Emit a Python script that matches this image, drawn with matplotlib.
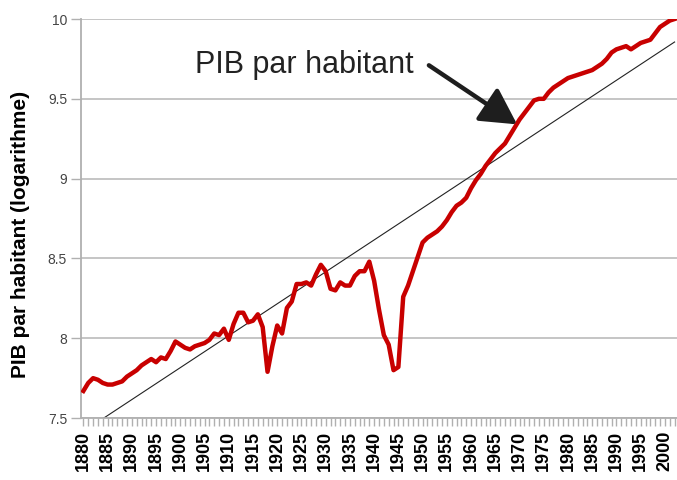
import numpy as np
import matplotlib
matplotlib.use("Agg")
import matplotlib.pyplot as plt

plt.rcParams['font.family'] = ['Liberation Sans', 'DejaVu Sans']

# PIB par habitant (log), one value per year, 1880-2002
years = list(range(1880, 2003))
pib_log = [
    7.67, 7.72, 7.75, 7.74, 7.72, 7.71, 7.71, 7.72, 7.73, 7.76,   # 1880-1889
    7.78, 7.80, 7.83, 7.85, 7.87, 7.85, 7.88, 7.87, 7.92, 7.98,   # 1890-1899
    7.96, 7.94, 7.93, 7.95, 7.96, 7.97, 7.99, 8.03, 8.02, 8.06,   # 1900-1909
    7.99, 8.09, 8.16, 8.16, 8.10, 8.11, 8.15, 8.07, 7.79, 7.95,   # 1910-1919
    8.08, 8.03, 8.19, 8.23, 8.34, 8.34, 8.35, 8.33, 8.40, 8.46,   # 1920-1929
    8.42, 8.31, 8.30, 8.35, 8.33, 8.33, 8.39, 8.42, 8.42, 8.48,   # 1930-1939
    8.36, 8.18, 8.02, 7.96, 7.80, 7.82, 8.26, 8.33, 8.42, 8.51,   # 1940-1949
    8.60, 8.63, 8.65, 8.67, 8.70, 8.74, 8.79, 8.83, 8.85, 8.88,   # 1950-1959
    8.94, 8.99, 9.03, 9.08, 9.12, 9.16, 9.19, 9.22, 9.27, 9.32,   # 1960-1969
    9.37, 9.41, 9.45, 9.49, 9.50, 9.50, 9.54, 9.57, 9.59, 9.61,   # 1970-1979
    9.63, 9.64, 9.65, 9.66, 9.67, 9.68, 9.70, 9.72, 9.75, 9.79,   # 1980-1989
    9.81, 9.82, 9.83, 9.81, 9.83, 9.85, 9.86, 9.87, 9.91, 9.95,   # 1990-1999
    9.97, 9.99, 10.00,                                            # 2000-2002
]

# linear trend, end points
trend_years = [1880, 2002]
trend_values = [7.416, 9.856]

xtick_years = list(range(1880, 2001, 5))
ytick_values = [7.5, 8, 8.5, 9, 9.5, 10]
ytick_labels = ["7.5", "8", "8.5", "9", "9.5", "10"]

fig = plt.figure(figsize=(6.77, 4.8), dpi=100)
ax = fig.add_axes([0.1196, 0.129, 0.8804, 0.8314])

for v in ytick_values:
    ax.axhline(v, color="#c0c0c0", lw=1.3, zorder=0)

ax.plot(trend_years, trend_values, color="#222222", lw=0.8, zorder=2)
ax.plot(years, pib_log, color="#c80000", lw=3.2, zorder=3, solid_joinstyle="round")

ax.set_xlim(1879.5, 2002.5)
ax.set_ylim(7.5, 10)

ax.set_xticks(xtick_years)
ax.set_xticklabels([str(y) for y in xtick_years], rotation=90,
                   fontweight="bold", fontsize=13)
ax.set_xticks(years, minor=True)
ax.tick_params(axis="x", which="both", length=6, color="#b0b0b0", width=1, pad=3)

ax.set_yticks(ytick_values)
ax.set_yticklabels(ytick_labels, fontsize=10, color="#444444")
ax.tick_params(axis="y", length=7, color="#b0b0b0", width=1, pad=3)

for s in ["top", "right"]:
    ax.spines[s].set_visible(False)
ax.spines["left"].set_color("#b0b0b0")
ax.spines["bottom"].set_color("#b0b0b0")
ax.spines["left"].set_linewidth(1.3)
ax.spines["bottom"].set_linewidth(1.3)

ax.set_ylabel("PIB par habitant (logarithme)", fontsize=15, fontweight="bold")
ax.yaxis.set_label_coords(-0.085, 0.46)

ax.text(1925.6, 9.71, "PIB par habitant", fontsize=22, color="#222222",
        ha="center", va="center")
ax.annotate("", xy=(1969.5, 9.34), xytext=(1951.3, 9.71),
            arrowprops=dict(arrowstyle="-|>,head_length=1.1,head_width=0.6",
                            mutation_scale=20, lw=3.2, color="#1e1e1e",
                            shrinkA=0, shrinkB=0))

fig.savefig("out.png", dpi=100)
